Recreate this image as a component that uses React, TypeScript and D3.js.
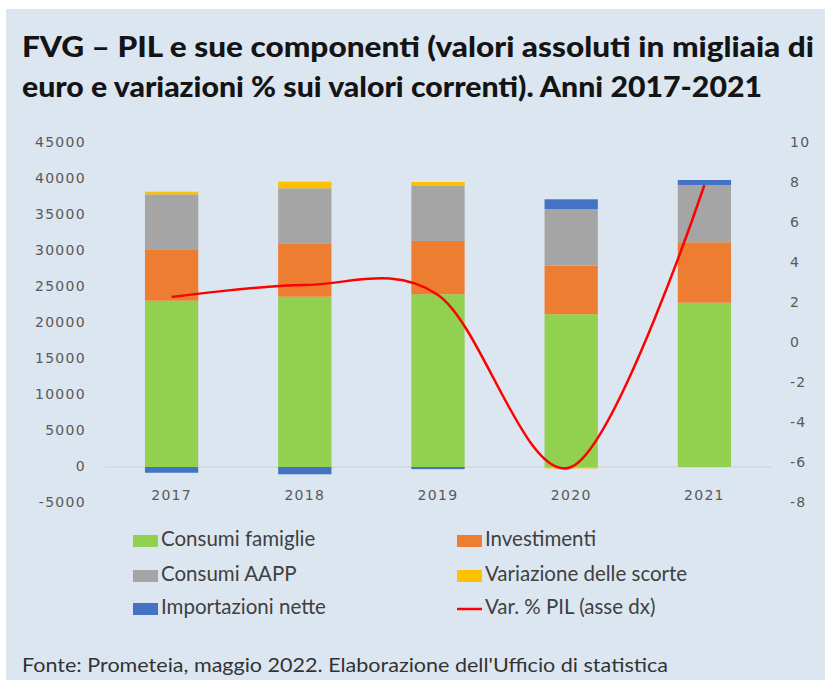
import React from "react";
import * as d3 from "d3";

const years = ["2017", "2018", "2019", "2020", "2021"];
const consumiFamiglie = [23100, 23650, 23990, 21210, 22820];
const investimenti = [7140, 7420, 7400, 6750, 8390];
const consumiAAPP = [7630, 7640, 7640, 7870, 7960];
const variazioneScorte = [370, 920, 550, -200, 0];
const importazioniNette = [-800, -1010, -300, 1350, 690];
const varPIL = [2.3, 2.9, 2.4, -6.2, 7.9];

const leftTicks = [-5000, 0, 5000, 10000, 15000, 20000, 25000, 30000, 35000, 40000, 45000];
const rightTicks = [-8, -6, -4, -2, 0, 2, 4, 6, 8, 10];

const seriesNames = ["Consumi famiglie", "Investimenti", "Consumi AAPP", "Variazione delle scorte", "Importazioni nette"];
const seriesKeys = ["cf", "inv", "aapp", "scorte", "imp"];
const seriesColors = ["#92d050", "#ed7d31", "#a5a5a5", "#ffc000", "#4472c4"];
const lineName = "Var. % PIL (asse dx)";

const titleLines = [
  "FVG – PIL e sue componenti (valori assoluti in migliaia di",
  "euro e variazioni % sui valori correnti). Anni 2017-2021",
];
const titleWidths = [792, 740];
const footerText = "Fonte: Prometeia, maggio 2022.  Elaborazione dell'Ufficio di statistica";

export default function App() {
  const W = 825, H = 680;
  const x = d3.scaleBand().domain(years).range([105, 771]).paddingInner(0.6).paddingOuter(0.3);
  const yL = d3.scaleLinear().domain([-5000, 45000]).range([503, 143]);
  const yR = d3.scaleLinear().domain([-8, 10]).range([503, 143]);

  const rows = years.map((yr, i) => ({
    year: yr,
    cf: consumiFamiglie[i],
    inv: investimenti[i],
    aapp: consumiAAPP[i],
    scorte: variazioneScorte[i],
    imp: importazioniNette[i],
  }));
  const stacked = d3.stack<any>().keys(seriesKeys).offset(d3.stackOffsetDiverging)(rows);

  const line = d3
    .line<number>()
    .x((_, i) => (x(years[i]) as number) + x.bandwidth() / 2)
    .y((d) => yR(d))
    .curve(d3.curveCardinal.tension(0));

  const tickStyle: React.CSSProperties = { fontFamily: "DejaVu Sans", fontSize: 14, fill: "#595959", letterSpacing: 1.3 };
  const legendItems = [
    { name: seriesNames[0], color: seriesColors[0], type: "rect", col: 0, row: 0 },
    { name: seriesNames[1], color: seriesColors[1], type: "rect", col: 1, row: 0 },
    { name: seriesNames[2], color: seriesColors[2], type: "rect", col: 0, row: 1 },
    { name: seriesNames[3], color: seriesColors[3], type: "rect", col: 1, row: 1 },
    { name: seriesNames[4], color: seriesColors[4], type: "rect", col: 0, row: 2 },
    { name: lineName, color: "#ff0000", type: "line", col: 1, row: 2 },
  ];
  const colX = [133, 457];
  const rowY = [541, 576, 609];

  return (
    <svg width={W} height={H} style={{ position: "absolute", left: 0, top: 0 }}>
      <rect x={0} y={0} width={W} height={H} fill="#ffffff" />
      <rect x={6} y={9} width={W - 6} height={H - 9} fill="#dce6f1" />
      {titleLines.map((t, i) => (
        <text
          key={i}
          x={22}
          y={57 + i * 40}
          textLength={titleWidths[i]}
          lengthAdjust="spacingAndGlyphs"
          style={{ fontFamily: "Lato", fontWeight: 900, fontSize: 28, fill: "#141414" }}
        >
          {t}
        </text>
      ))}
      {/* zero line */}
      <line x1={105} x2={771} y1={yL(0)} y2={yL(0)} stroke="#d0d0d0" strokeWidth={1} />
      {stacked.map((s, si) => (
        <g key={si} fill={seriesColors[si]}>
          {s.map((d, di) => {
            const y0 = yL(d[0]);
            const y1 = yL(d[1]);
            const h = Math.abs(y0 - y1);
            if (h === 0) return null;
            return (
              <rect key={di} x={x(years[di])} width={x.bandwidth()} y={Math.min(y0, y1)} height={h} />
            );
          })}
        </g>
      ))}
      <path d={line(varPIL) || ""} fill="none" stroke="#ff0000" strokeWidth={2.5} />
      {leftTicks.map((t) => (
        <text key={t} x={86} y={yL(t)} textAnchor="end" dominantBaseline="middle" style={tickStyle}>
          {t}
        </text>
      ))}
      {rightTicks.map((t) => (
        <text key={t} x={790} y={yR(t)} textAnchor="start" dominantBaseline="middle" style={tickStyle}>
          {t}
        </text>
      ))}
      {years.map((yr) => (
        <text key={yr} x={(x(yr) as number) + x.bandwidth() / 2} y={496} textAnchor="middle" dominantBaseline="middle" style={tickStyle}>
          {yr}
        </text>
      ))}
      {legendItems.map((it, i) => {
        const lx = colX[it.col];
        const ly = rowY[it.row];
        return (
          <g key={i}>
            {it.type === "rect" ? (
              <rect x={lx} y={ly - 6} width={25} height={12} fill={it.color} />
            ) : (
              <line x1={lx} x2={lx + 25} y1={ly} y2={ly} stroke={it.color} strokeWidth={2.5} />
            )}
            <text x={lx + 28} y={ly} dominantBaseline="middle" style={{ fontFamily: "Lato", fontSize: 20.5, fill: "#404040" }}>
              {it.name}
            </text>
          </g>
        );
      })}
      <text
        x={22}
        y={672}
        textLength={646}
        lengthAdjust="spacingAndGlyphs"
        style={{ fontFamily: "Lato", fontSize: 20, fill: "#333333" }}
      >
        {footerText}
      </text>
    </svg>
  );
}
